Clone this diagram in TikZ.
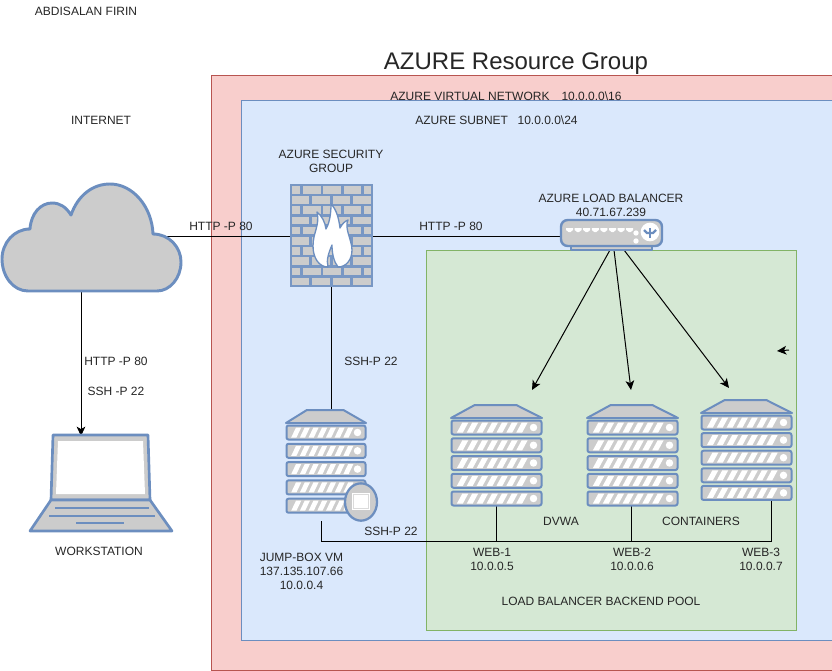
\documentclass[tikz,border=0pt]{standalone}
\usepackage{fontspec}
\setmainfont{Liberation Sans}
\usetikzlibrary{arrows.meta,calc}
\definecolor{icoB}{HTML}{6C8EBF}
\definecolor{icoG}{HTML}{CCCCCC}
\definecolor{redF}{HTML}{F8CECC}
\definecolor{redS}{HTML}{B85450}
\definecolor{bluF}{HTML}{DAE8FC}
\definecolor{grnF}{HTML}{D5E8D4}
\definecolor{grnS}{HTML}{82B366}
\tikzset{
 x=0.75pt,y=-0.75pt,
 lbl/.style={font=\fontsize{9}{10.5}\selectfont,text=black!85,align=center,inner sep=0pt},
 conn/.style={draw=black,line width=0.75pt},
 arr/.style={conn,-{Stealth[length=7pt,width=6.5pt,inset=1.8pt]}},
 icon/.style={draw=icoB,fill=icoG,line width=1.5pt,line join=round},
 pics/serverbody/.style n args={2}{code={
   \path[icon] (24*#1/92,0) -- (66*#1/92,0) -- (#1,13) -- (0,13) -- cycle;
   \foreach \r in {0,1,2,3,4}{
     \path[icon,rounded corners=1.5pt] (0.5,15.5+\r*#2) rectangle (#1-0.5,29.5+\r*#2);
     \foreach \s in {0,...,6}{
       \fill[white] ({(6+\s*10)*#1/92},27.5+\r*#2) -- ({(12+\s*10)*#1/92},27.5+\r*#2) -- ({(17.5+\s*10)*#1/92},17.5+\r*#2) -- ({(11.5+\s*10)*#1/92},17.5+\r*#2) -- cycle;
     }
     \fill[white] (#1-8.5,22.5+\r*#2) circle[radius=2.8pt];
   }
 }}
}
\begin{document}
\begin{tikzpicture}
\useasboundingbox (0,0) rectangle (832,671);
\fill[white] (0,0) rectangle (832,671);
% containers
\draw[fill=redF,draw=redS,line width=0.75pt] (211.5,75) rectangle (840,670);
\draw[fill=bluF,draw=icoB,line width=0.75pt] (241,100) rectangle (840,640);
\draw[fill=grnF,draw=grnS,line width=0.75pt] (426.5,250) rectangle (796,630);
% anchors
\coordinate (cloudE) at (163,236);
\coordinate (cloudS) at (81,291);
\coordinate (fwW) at (290,236);
\coordinate (fwE) at (373,236);
\coordinate (fwS) at (331.5,287);
\coordinate (lbW) at (561,236);
\coordinate (lbS1) at (610,250);
\coordinate (lbS2) at (614,250);
\coordinate (lbS3) at (624,250);
\coordinate (lapN) at (81,436);
\coordinate (jumpN) at (331.5,410);
\coordinate (jumpS) at (321,521);
\coordinate (busC) at (321,541);
\coordinate (busE) at (771,541);
\coordinate (w1N) at (532,390);
\coordinate (w2N) at (631,390);
\coordinate (w3N) at (729,388);
\coordinate (w1S) at (496.5,506);
\coordinate (w2S) at (631.5,506);
\coordinate (w3S) at (771,501);
\coordinate (w1B) at (496.5,541);
\coordinate (w2B) at (631.5,541);
\coordinate (strayA) at (789,350);
\coordinate (strayB) at (777,351);
% connectors
\draw[conn] (cloudE) -- (fwW);
\draw[conn] (fwE) -- (lbW);
\draw[arr] (cloudS) -- (lapN);
\draw[conn] (fwS) -- (jumpN);
\draw[arr] (lbS1) -- (w1N);
\draw[arr] (lbS2) -- (w2N);
\draw[arr] (lbS3) -- (w3N);
\draw[arr] (strayA) -- (strayB);
\draw[conn] (jumpS) -- (busC) -- (busE) -- (w3S);
\draw[conn] (w1S) -- (w1B);
\draw[conn] (w2S) -- (w2B);
% cloud
\path[draw=icoB,fill=icoG,line width=2.2pt,line join=round]
 (28,291) .. controls (13,291) and (2,276) .. (2,259)
 .. controls (2,243) and (14,229) .. (30,229)
 .. controls (31,213) and (41,203) .. (52,203)
 .. controls (60,203) and (66,207) .. (71,215)
 .. controls (78,195) and (93,184) .. (110,184)
 .. controls (133,184) and (152,207) .. (153,234)
 .. controls (169,234) and (181,247) .. (181,262)
 .. controls (181,278) and (170,291) .. (157,291) -- cycle;
% firewall
\fill[icoB!92!white] (290,184) rectangle (373,287);
\foreach \r in {0,2,4,6,8}{
  \foreach \a/\b in {292/300,302.5/320.5,323/341,343.5/361,363.5/371}{
    \fill[icoG] (\a,186+\r*10.2) rectangle (\b,193.5+\r*10.2);
  }
}
\foreach \r in {1,3,5,7,9}{
  \foreach \a/\b in {292/309,312/330,333/350,353/371}{
    \fill[icoG] (\a,186+\r*10.2) rectangle (\b,193.5+\r*10.2);
  }
}
\path[draw=icoB,fill=white,line width=1pt,line join=round]
 (328,267) .. controls (319,267) and (313,258) .. (313,246)
 .. controls (313,232) and (320,226) .. (317,212)
 .. controls (322,216) and (325,222) .. (326,229)
 .. controls (330,222) and (331,212) .. (331,204)
 .. controls (337,210) and (339,220) .. (340,228)
 .. controls (342,224) and (345,221) .. (348,220)
 .. controls (344,228) and (352,240) .. (352,250)
 .. controls (352,260) and (346,267) .. (338,267)
 .. controls (334,262) and (332,254) .. (332,245)
 .. controls (329,252) and (326,260) .. (328,267) -- cycle;
% load balancer
\path[icon] (571,246) rectangle (652,250);
\path[draw=icoB,fill=icoG,line width=1.8pt,rounded corners=5pt] (561,220) rectangle (662,246);
\foreach \i in {0,...,7}{
  \fill[white] ({566+\i*8.6},228) -- ({573+\i*8.6},228) -- ({573+\i*8.6},230) -- ({570.5+\i*8.6},232) -- ({568.5+\i*8.6},232) -- ({566+\i*8.6},230) -- cycle;
}
\fill[white] (636,233) circle[radius=2pt];
\fill[white] (636,241) circle[radius=2pt];
\fill[white] (650,232) circle[radius=7pt];
\draw[icoB,line width=2pt] (650,228) -- (650,238);
\draw[icoB,line width=1.8pt] (644,230) -- (647,233) -- (653,233) -- (656,230);
% servers
\pic at (451,405) {serverbody={91}{17.75}};
\pic at (587,405) {serverbody={91}{17.75}};
\pic at (701,400) {serverbody={91}{17.6}};
\pic at (286,410) {serverbody={80}{18.3}};
% jump-box badge
\path[draw=icoB,fill=icoG,line width=1.7pt] (361,502) ellipse[x radius=12pt,y radius=14pt];
\fill[white] (352,493) rectangle (370,510);
\draw[icoG!70!white,line width=0.8pt] (353.5,494.5) rectangle (368.5,508.5);
% laptop
\path[draw=icoB,fill=icoG,line width=2pt,line join=round] (53,435) -- (148,435) -- (150,500) -- (51,500) -- cycle;
\fill[white] (58,441) -- (143,441) -- (145,494) -- (56,494) -- cycle;
\path[draw=icoB,fill=icoG,line width=2pt,line join=round] (51,500) -- (150,500) -- (172,531) -- (30,531) -- cycle;
\draw[icoB,line width=1.7pt] (55,508) -- (149,508);
\draw[icoB,line width=1.7pt] (49,516) -- (155,516);
\draw[icoB,line width=1.7pt] (76,523) -- (124,523);
% labels
\node[lbl] (author) at (86,11) {ABDISALAN FIRIN};
\node[lbl,font=\fontsize{18}{20}\selectfont] (rgTitle) at (516,64) {AZURE Resource Group};
\node[lbl] (vnetL) at (506,96) {AZURE VIRTUAL NETWORK\hspace{1em}10.0.0.0\textbackslash 16};
\node[lbl] (subL) at (496.5,120) {AZURE SUBNET\hspace{0.8em}10.0.0.0\textbackslash 24};
\node[lbl] (inetL) at (101,120) {INTERNET};
\node[lbl] (asgL) at (331,161) {AZURE SECURITY\\GROUP};
\node[lbl] (albL) at (611,205) {AZURE LOAD BALANCER\\40.71.67.239};
\node[lbl] (h1) at (221,226) {HTTP -P 80};
\node[lbl] (h2) at (451,226) {HTTP -P 80};
\node[lbl] (ssh1) at (371,361) {SSH-P 22};
\node[lbl] (h3) at (116,361) {HTTP -P 80};
\node[lbl] (ssh2) at (116,391) {SSH -P 22};
\node[lbl] (wsL) at (99,551) {WORKSTATION};
\node[lbl] (ssh3) at (391,531) {SSH-P 22};
\node[lbl] (dvwa) at (561,521) {DVWA};
\node[lbl] (cont) at (701,521) {CONTAINERS};
\node[lbl] (jumpL) at (301.5,571) {JUMP-BOX VM\\137.135.107.66\\10.0.0.4};
\node[lbl] (w1L) at (492,559) {WEB-1\\10.0.0.5};
\node[lbl] (w2L) at (632,559) {WEB-2\\10.0.0.6};
\node[lbl] (w3L) at (761,559) {WEB-3\\10.0.0.7};
\node[lbl] (poolL) at (601,601) {LOAD BALANCER BACKEND POOL};
\end{tikzpicture}
\end{document}
